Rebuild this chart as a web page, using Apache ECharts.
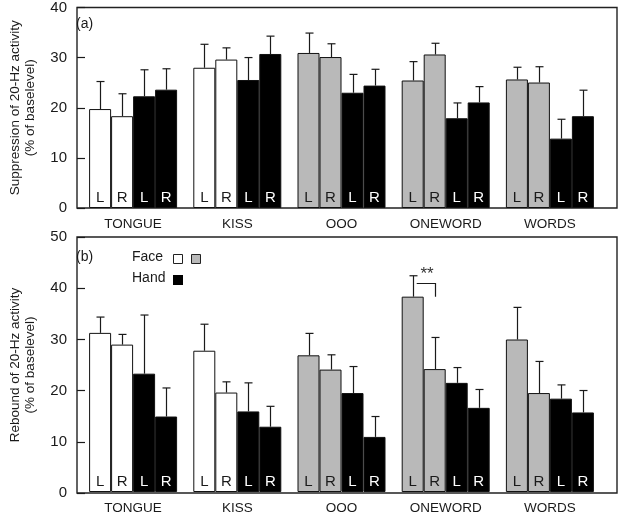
<!DOCTYPE html>
<html>
<head>
<meta charset="utf-8">
<script src="https://cdn.jsdelivr.net/npm/echarts@6/dist/echarts.min.js"></script>
<style>
  html, body { margin: 0; padding: 0; background: #fff; }
  #main { width: 620px; height: 515px; }
</style>
</head>
<body>
<div id="main"></div>
<script>
var categories = ["TONGUE", "KISS", "OOO", "ONEWORD", "WORDS"];
var faceColors = ["#ffffff", "#ffffff", "#b9b9b9", "#b9b9b9", "#b9b9b9"];

// (a) suppression, mean and mean+SEM
var supFaceL = [19.4, 27.5, 30.4, 25.0, 25.2];
var supFaceR = [18.0, 29.1, 29.6, 30.1, 24.6];
var supHandL = [21.9, 25.1, 22.6, 17.6, 13.6];
var supHandR = [23.2, 30.2, 24.0, 20.7, 18.0];
var supFaceLErr = [24.8, 32.1, 34.3, 28.7, 27.6];
var supFaceRErr = [22.4, 31.4, 32.2, 32.3, 27.7];
var supHandLErr = [27.1, 29.5, 26.2, 20.6, 17.4];
var supHandRErr = [27.3, 33.7, 27.2, 23.8, 23.1];

// (b) rebound
var rebFaceL = [31.2, 27.7, 26.8, 38.3, 29.9];
var rebFaceR = [28.9, 19.5, 24.0, 24.1, 19.4];
var rebHandL = [23.2, 15.8, 19.4, 21.4, 18.3];
var rebHandR = [14.8, 12.8, 10.8, 16.5, 15.6];
var rebFaceLErr = [34.3, 32.9, 31.1, 42.4, 36.2];
var rebFaceRErr = [30.9, 21.6, 26.9, 30.3, 25.6];
var rebHandLErr = [34.7, 21.4, 24.6, 24.4, 21.0];
var rebHandRErr = [20.4, 16.8, 14.8, 20.1, 19.9];

// significance bracket ONEWORD face L vs R in (b)
var sigCat = [3];
var sigLevel = [40.9];
var sigBottom = [38.3];

var FONT = "'Liberation Sans', Arial, sans-serif";
var INK = "#1a1a1a";
var BAR_W = 22;

function barSeries(axisIdx, values, side, isFace) {
    return {
        type: 'bar',
        xAxisIndex: axisIdx,
        yAxisIndex: axisIdx,
        barWidth: BAR_W,
        barGap: '0%',
        data: values.map(function (v, i) {
            return {
                value: v,
                itemStyle: { color: isFace ? faceColors[i] : '#000' }
            };
        }),
        itemStyle: { borderColor: '#111', borderWidth: 1 },
        label: {
            show: true,
            position: 'insideBottom',
            distance: 3,
            formatter: side,
            color: isFace ? INK : '#fff',
            fontFamily: FONT,
            fontSize: 15
        },
        animation: false
    };
}

function errSeries(axisIdx, tops, errs) {
    var data = [];
    for (var k = 0; k < tops.length; k++) {
        for (var i = 0; i < categories.length; i++) {
            data.push([i, k, tops[k][i], errs[k][i]]);
        }
    }
    return {
        type: 'custom',
        xAxisIndex: axisIdx,
        yAxisIndex: axisIdx,
        encode: { x: 0, y: [2, 3] },
        data: data,
        z: 5,
        renderItem: function (params, api) {
            var base = api.coord([api.value(0), 0]);
            var x = Math.round(base[0] + (api.value(1) - 1.5) * BAR_W) + 0.5;
            var y0 = api.coord([api.value(0), api.value(2)])[1];
            var y1 = api.coord([api.value(0), api.value(3)])[1];
            var st = { stroke: INK, lineWidth: 1.2 };
            return {
                type: 'group',
                children: [
                    { type: 'line', shape: { x1: x, y1: y0, x2: x, y2: y1 }, style: st },
                    { type: 'line', shape: { x1: x - 4, y1: y1, x2: x + 4, y2: y1 }, style: st }
                ]
            };
        },
        animation: false
    };
}

function sigSeries(axisIdx) {
    return {
        type: 'custom',
        xAxisIndex: axisIdx,
        yAxisIndex: axisIdx,
        encode: { x: 0, y: [1, 2] },
        data: sigCat.map(function (c, i) { return [c, sigLevel[i], sigBottom[i]]; }),
        z: 6,
        renderItem: function (params, api) {
            var base = api.coord([api.value(0), 0]);
            var xL = base[0] - 1.5 * BAR_W + 4;
            var xR = Math.round(base[0] - 0.5 * BAR_W) + 0.5;
            var yT = Math.round(api.coord([api.value(0), api.value(1)])[1]) + 0.5;
            var yB = api.coord([api.value(0), api.value(2)])[1];
            return {
                type: 'group',
                children: [
                    { type: 'polyline', shape: { points: [[xL, yT], [xR, yT], [xR, yB]] }, style: { stroke: INK, lineWidth: 1.2, fill: null } },
                    { type: 'text', x: (xL + xR) / 2 + 1, y: yT - 1, style: { text: '**', fontSize: 17, fontFamily: FONT, fill: '#333', align: 'center', verticalAlign: 'bottom' } }
                ]
            };
        },
        animation: false
    };
}

var frameGrid = { left: 67, right: 3, show: true, borderColor: '#222', borderWidth: 1.4, backgroundColor: '#fff' };
var dataGrid = { left: 81, right: 18 };

function yAx(gridIdx, max, name, visible) {
    return {
        type: 'value',
        gridIndex: gridIdx,
        min: 0,
        max: max,
        interval: 10,
        show: visible,
        axisLine: { show: false },
        axisTick: { show: true, inside: true, length: 8, lineStyle: { color: INK, width: 1.2 } },
        axisLabel: { fontFamily: FONT, fontSize: 15, color: INK, margin: 10 },
        splitLine: { show: false },
        name: name,
        nameLocation: 'middle',
        nameRotate: 90,
        nameGap: 39,
        nameTextStyle: { fontFamily: FONT, fontSize: 13.5, color: INK, lineHeight: 15 }
    };
}

function xAx(gridIdx, visible) {
    return {
        type: 'category',
        gridIndex: gridIdx,
        data: categories,
        show: visible,
        axisLine: { show: false },
        axisTick: { show: false },
        axisLabel: { fontFamily: FONT, fontSize: 13.5, color: INK, margin: 9 }
    };
}

var option = {
    backgroundColor: '#fff',
    animation: false,
    grid: [
        Object.assign({ top: 4, height: 204 }, frameGrid),
        Object.assign({ top: 4, height: 204 }, dataGrid),
        Object.assign({ top: 237, height: 256 }, frameGrid),
        Object.assign({ top: 237, height: 256 }, dataGrid)
    ],
    xAxis: [xAx(0, false), xAx(1, true), xAx(2, false), xAx(3, true)],
    yAxis: [
        yAx(0, 40, 'Suppression of 20-Hz activity\n(% of baselevel)', true),
        yAx(1, 40, '', false),
        yAx(2, 50, 'Rebound of 20-Hz activity\n(% of baselevel)', true),
        yAx(3, 50, '', false)
    ],
    series: [
        barSeries(1, supFaceL, 'L', true),
        barSeries(1, supFaceR, 'R', true),
        barSeries(1, supHandL, 'L', false),
        barSeries(1, supHandR, 'R', false),
        errSeries(1, [supFaceL, supFaceR, supHandL, supHandR], [supFaceLErr, supFaceRErr, supHandLErr, supHandRErr]),
        barSeries(3, rebFaceL, 'L', true),
        barSeries(3, rebFaceR, 'R', true),
        barSeries(3, rebHandL, 'L', false),
        barSeries(3, rebHandR, 'R', false),
        errSeries(3, [rebFaceL, rebFaceR, rebHandL, rebHandR], [rebFaceLErr, rebFaceRErr, rebHandLErr, rebHandRErr]),
        sigSeries(3)
    ],
    graphic: [
        { type: 'text', left: 76, top: 17, style: { text: '(a)', fontFamily: FONT, fontSize: 14, fill: INK } },
        { type: 'text', left: 76, top: 250, style: { text: '(b)', fontFamily: FONT, fontSize: 14, fill: INK } },
        { type: 'text', left: 132, top: 250, style: { text: 'Face', fontFamily: FONT, fontSize: 14, fill: INK } },
        { type: 'text', left: 132, top: 271, style: { text: 'Hand', fontFamily: FONT, fontSize: 14, fill: INK } },
        { type: 'rect', left: 173, top: 254, shape: { width: 9, height: 9 }, style: { fill: '#fff', stroke: '#222', lineWidth: 1 } },
        { type: 'rect', left: 191, top: 254, shape: { width: 9, height: 9 }, style: { fill: '#b9b9b9', stroke: '#222', lineWidth: 1 } },
        { type: 'rect', left: 173, top: 275, shape: { width: 10, height: 10 }, style: { fill: '#000' } }
    ]
};

var chart = echarts.init(document.getElementById('main'));
chart.setOption(option);
</script>
</body>
</html>
